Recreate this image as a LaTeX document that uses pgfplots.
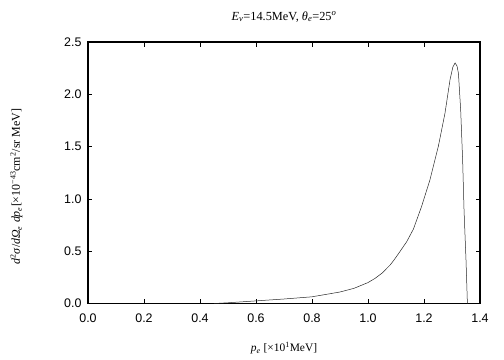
\documentclass[border=0pt]{standalone}
\usepackage{fontspec}
\setmainfont{Liberation Serif}
\newfontfamily\ticksf{Liberation Sans}
\usepackage{pgfplots}
\pgfplotsset{compat=1.18}
\begin{document}
\begin{tikzpicture}
\begin{axis}[
  at={(0,0)}, anchor=south west,
  scale only axis, width=392bp, height=261.5bp,
  xmin=0, xmax=1.4, ymin=0, ymax=2.5,
  xtick={0,0.2,...,1.4}, ytick={0,0.5,...,2.5},
  /pgf/number format/fixed, /pgf/number format/fixed zerofill, /pgf/number format/precision=1,
  /pgf/number format/assume math mode=true,
  tick label style={font=\ticksf\fontsize{12.5}{14}\selectfont},
  xticklabel style={anchor=north, yshift=-6.5bp},
  yticklabel style={anchor=east, xshift=-3bp},
  tick align=inside, major tick length=4.5bp,
  tick style={black, line width=0.6pt},
  axis line style={black, line width=1.2pt},
  xlabel={\textit{p}\textsubscript{\textit{e}} [×10\textsuperscript{1}MeV]},
  ylabel={\textit{d}\textsuperscript{2}\textit{σ}/\textit{d}\textit{Ω}\textsubscript{\textit{e}} \textit{dp}\textsubscript{\textit{e}}[×10\textsuperscript{−43}cm\textsuperscript{2}/sr MeV]},
  title={\textit{E}\textsubscript{\textit{ν}}=14.5MeV, \textit{θ}\textsubscript{\textit{e}}=25\textsuperscript{\textit{o}}},
  title style={font=\fontsize{12.4}{14}\selectfont, at={(0.5,1)}, anchor=base, yshift=16bp},
  xlabel style={font=\fontsize{11.5}{13}\selectfont, at={(0.5,0)}, anchor=base, yshift=-48bp},
  ylabel style={font=\fontsize{12}{14}\selectfont, at={(0,0.5)}, anchor=base, xshift=-14bp, yshift=68bp},
]
\addplot[black!85, line width=0.5pt] coordinates {
(0.45,0.0) (0.5,0.007) (0.6,0.025) (0.7,0.043) (0.8,0.064) (0.9,0.11) (0.95,0.145)
(1.0,0.2) (1.025,0.24) (1.05,0.29) (1.079,0.368) (1.093,0.416) (1.115,0.5)
(1.138,0.59) (1.162,0.71) (1.191,0.925) (1.221,1.18) (1.251,1.50) (1.275,1.82)
(1.293,2.14) (1.303,2.26) (1.311,2.30) (1.318,2.27) (1.323,2.20) (1.331,1.85)
(1.338,1.37) (1.343,0.89) (1.35,0.416) (1.355,0.0)
};
\end{axis}
\useasboundingbox (-88bp,-56.5bp) rectangle (416bp,303.5bp);
\end{tikzpicture}
\end{document}
